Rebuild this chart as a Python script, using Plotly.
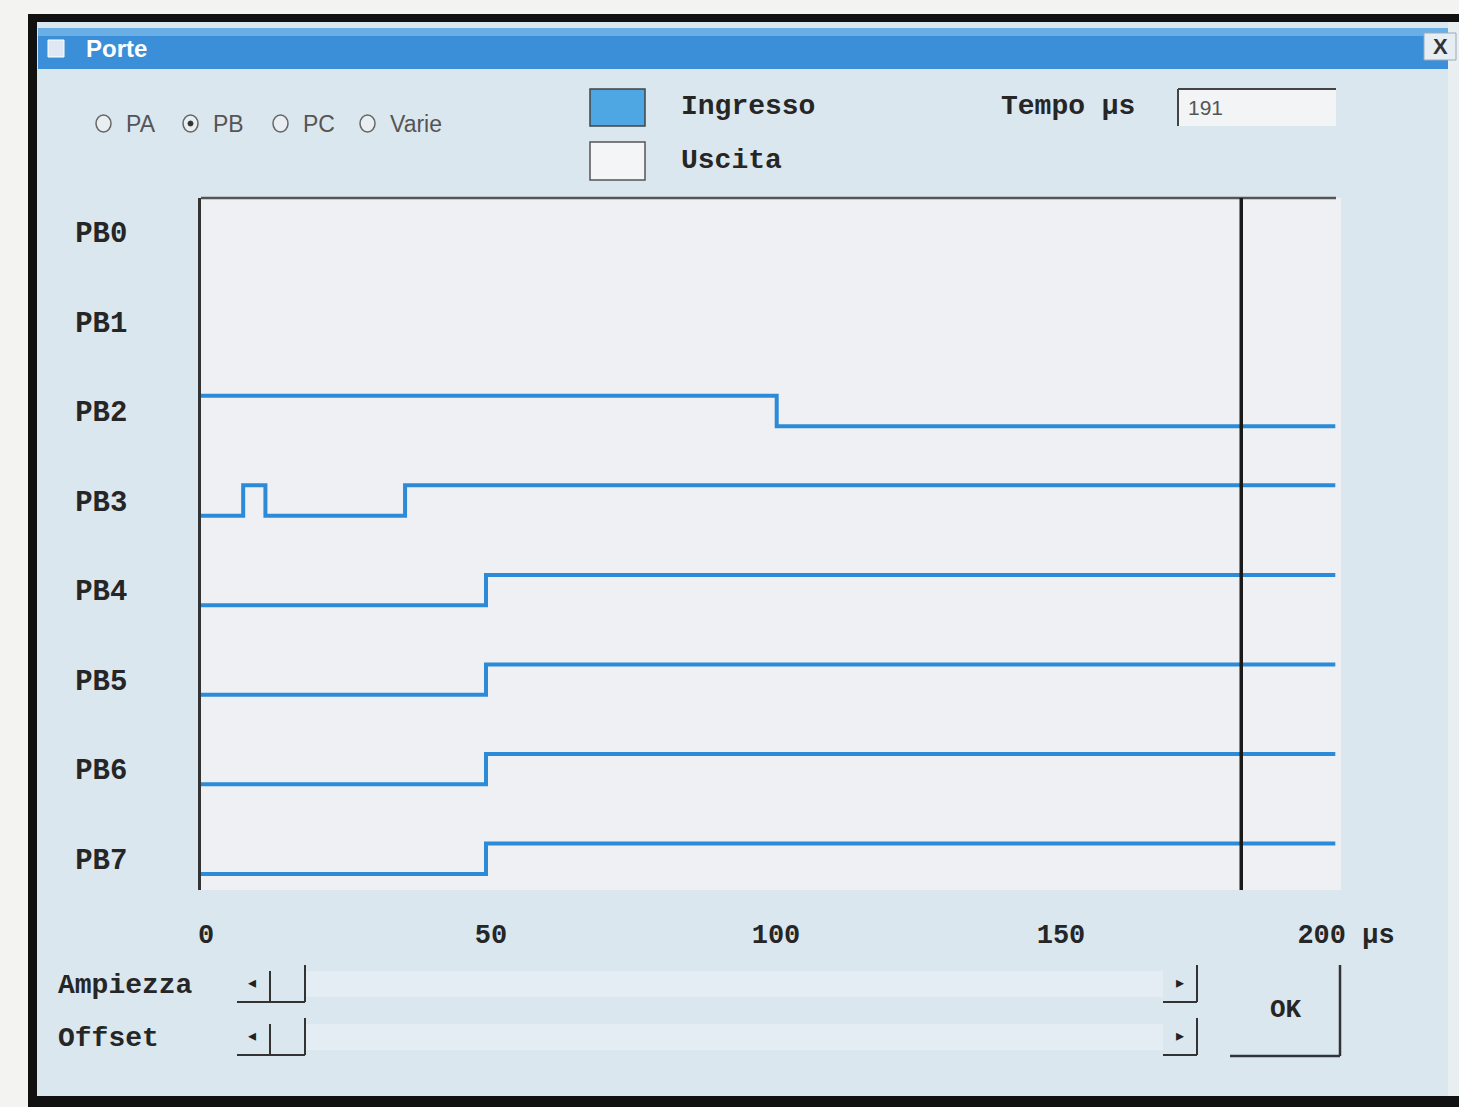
import plotly.graph_objects as go

W, H = 1459, 1107

# ---------------- data ----------------
channels = ["PB0", "PB1", "PB2", "PB3", "PB4", "PB5", "PB6", "PB7"]
# step signals: transition times (µs) and logic levels
pb0_t, pb0_v = [], []
pb1_t, pb1_v = [], []
pb2_t, pb2_v = [0, 101, 199], [1, 0, 0]
pb3_t, pb3_v = [0, 7.4, 11.3, 35.8, 199], [0, 1, 0, 1, 1]
pb4_t, pb4_v = [0, 50, 199], [0, 1, 1]
pb5_t, pb5_v = [0, 50, 199], [0, 1, 1]
pb6_t, pb6_v = [0, 50, 199], [0, 1, 1]
pb7_t, pb7_v = [0, 50, 199], [0, 1, 1]
signals = [(pb0_t, pb0_v), (pb1_t, pb1_v), (pb2_t, pb2_v), (pb3_t, pb3_v),
           (pb4_t, pb4_v), (pb5_t, pb5_v), (pb6_t, pb6_v), (pb7_t, pb7_v)]
x_ticks = [0, 50, 100, 150, 200]
x_ticktext = ["0", "50", "100", "150", "200 µs"]
cursor_us = 182.5
tempo_value = "191"

# ---------------- style ----------------
LINE = "#2b8bd8"
DLG = "#dbe7ef"
PLOTBG = "#eff0f3"
MONO = "Liberation Mono"
TXT = "#262626"
AMP = 0.17

def px(x):
    return x / W

def py(y):
    return 1 - y / H

shapes = []
annotations = []

def rect(x0, y0, x1, y1, fill=None, line=None, lw=0, layer="below"):
    shapes.append(dict(type="rect", xref="paper", yref="paper",
                       x0=px(x0), x1=px(x1), y0=py(y1), y1=py(y0),
                       fillcolor=fill or "rgba(0,0,0,0)",
                       line=dict(color=line or "rgba(0,0,0,0)", width=lw),
                       layer=layer))

def seg(x0, y0, x1, y1, color, lw, layer="below"):
    shapes.append(dict(type="line", xref="paper", yref="paper",
                       x0=px(x0), x1=px(x1), y0=py(y0), y1=py(y1),
                       line=dict(color=color, width=lw), layer=layer))

def circ(x0, y0, x1, y1, fill=None, line=None, lw=0):
    shapes.append(dict(type="circle", xref="paper", yref="paper",
                       x0=px(x0), x1=px(x1), y0=py(y1), y1=py(y0),
                       fillcolor=fill or "rgba(0,0,0,0)",
                       line=dict(color=line or "rgba(0,0,0,0)", width=lw),
                       layer="below"))

def text(x, y, s, size=27, color=TXT, family=MONO, xanchor="left", bold=True):
    annotations.append(dict(xref="paper", yref="paper", x=px(x), y=py(y),
                            text=(f"<b>{s}</b>" if bold else s), showarrow=False,
                            xanchor=xanchor, yanchor="middle",
                            font=dict(family=family, size=size, color=color)))

# ---------------- window chrome ----------------
rect(0, 0, W, H, fill="#f3f3f1")
rect(28, 14, W, H, fill="#111111")
rect(37, 22, W, 1096, fill=DLG)
rect(1448, 22, W, 1096, fill="#e9eef1")
# title bar
rect(38, 28, 1448, 69, fill="#3b8fd9")
rect(38, 28, 1448, 36, fill="#6aaee6")
rect(48, 40, 64, 57, fill="#dfe9f5", line="#ffffff", lw=1)
text(84, 48, "Porte", size=24, color="#ffffff", family="Liberation Sans")
rect(1424, 33, 1456, 60, fill="#e6eef4", line="#99aabb", lw=1)
text(1440, 46, "X", size=22, color="#333333", family="Liberation Sans", xanchor="center")

# radio buttons
radios = [("PA", 96, False), ("PB", 183, True), ("PC", 273, False), ("Varie", 360, False)]
for lab, rx, sel in radios:
    circ(rx, 115, rx + 15, 132, fill="#e8eef2", line="#666666", lw=1.5)
    if sel:
        circ(rx + 5, 121, rx + 10, 126, fill="#333333", line="#333333", lw=1)
    text(rx + 28, 124, lab, size=23, color="#555555", family="Liberation Sans", bold=False)

# legend
rect(590, 89, 645, 126, fill="#4ea6e2", line="#444444", lw=1.5)
text(679, 106, "Ingresso", size=28)
rect(590, 142, 645, 180, fill="#f4f5f6", line="#555555", lw=1.5)
text(679, 160, "Uscita", size=28)

# tempo box
text(999, 106, "Tempo µs", size=28)
rect(1178, 89, 1336, 126, fill="#f2f4f6")
seg(1178, 89, 1336, 89, "#444444", 2)
seg(1178, 89, 1178, 126, "#444444", 2)
text(1186, 108, tempo_value, size=21, color="#555555", family="Liberation Sans", bold=False)

# plot background + top frame line
rect(201, 198, 1341, 890, fill=PLOTBG)
seg(201, 198, 1336, 198, "#555555", 2.5)

# bottom controls
text(56, 985, "Ampiezza", size=28)
text(56, 1038, "Offset", size=28)
for yy in (965, 1018):
    rect(305, yy + 6, 1163, yy + 32, fill="#e3edf3")
    seg(237, yy + 37, 305, yy + 37, "#333333", 2)
    seg(305, yy, 305, yy + 37, "#333333", 2)
    seg(270, yy + 6, 270, yy + 37, "#333333", 2)
    text(252, yy + 17, "◂", size=16, color="#222222", family="DejaVu Sans", xanchor="center", bold=False)
    seg(1163, yy + 37, 1197, yy + 37, "#333333", 2)
    seg(1197, yy, 1197, yy + 37, "#333333", 2)
    text(1180, yy + 17, "▸", size=16, color="#222222", family="DejaVu Sans", xanchor="center", bold=False)
# OK button
seg(1230, 1056, 1340, 1056, "#333344", 2.5)
seg(1340, 965, 1340, 1056, "#333333", 2.5)
text(1286, 1010, "OK", size=26, xanchor="center")

# ---------------- traces ----------------
fig = go.Figure()
for i, (t, v) in enumerate(signals):
    if not t:
        continue
    yv = [i + (AMP if lv == 0 else -AMP) for lv in v]
    fig.add_trace(go.Scatter(x=t, y=yv, mode="lines", line_shape="hv",
                             line=dict(color=LINE, width=4),
                             name=channels[i], showlegend=False, hoverinfo="skip"))

# time cursor
fig.add_trace(go.Scatter(x=[cursor_us, cursor_us], y=[-0.38, 7.35], mode="lines",
                         line=dict(color="#1a1a1a", width=3.5),
                         showlegend=False, hoverinfo="skip"))

fig.update_layout(
    width=W, height=H, autosize=False,
    margin=dict(l=0, r=0, t=0, b=0, pad=0, autoexpand=False),
    paper_bgcolor="#f3f3f1",
    plot_bgcolor="rgba(0,0,0,0)",
    shapes=shapes,
    annotations=annotations,
    showlegend=False,
    xaxis=dict(domain=[px(201), px(1341)], range=[0, 200], automargin=False,
               tickmode="array", tickvals=x_ticks, ticktext=x_ticktext,
               tickfont=dict(family=MONO, size=27, color=TXT, weight="bold"),
               showgrid=False, zeroline=False, showline=False, ticks="",
               ticklabelshift=5, ticklabelstandoff=25, fixedrange=True),
    yaxis=dict(domain=[py(890), py(198)], range=[7.35, -0.38], automargin=False,
               tickmode="array", tickvals=list(range(len(channels))), ticktext=channels,
               tickfont=dict(family=MONO, size=29, color=TXT, weight="bold"),
               showgrid=False, zeroline=False, showline=True,
               linecolor="#333333", linewidth=2.5, ticks="",
               ticklabelstandoff=65, fixedrange=True),
)

fig.write_html("out.html", config={"responsive": False, "displayModeBar": False},
               post_script="document.body.style.margin='0';document.body.style.overflow='hidden';")
